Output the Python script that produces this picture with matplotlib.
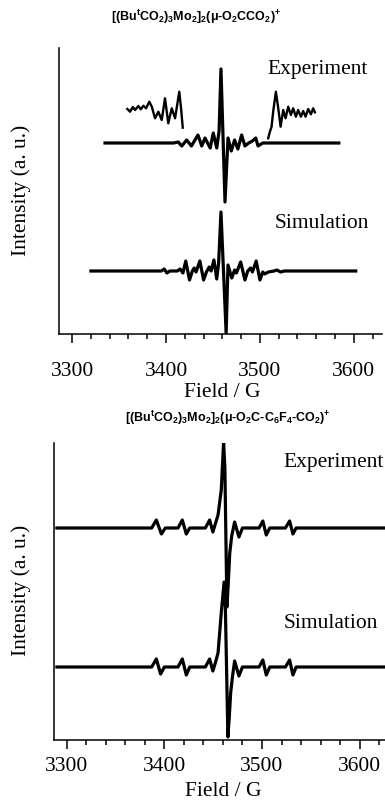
import matplotlib
matplotlib.use("Agg")
import matplotlib.pyplot as plt
from matplotlib.ticker import MultipleLocator

# ---- top panel: [(BuCO2)3Mo2]2(oxalate)+ ----
top_exp_field = [3335, 3408, 3413, 3416.7, 3422, 3427, 3434, 3438, 3441.5, 3447, 3450.3, 3454,
                 3456.5, 3458.5, 3462.8, 3466, 3469.5, 3473, 3476.5, 3480.5, 3484, 3488, 3492,
                 3495.5, 3498, 3503, 3584]
top_exp_int = [0, 0, 1, -3, 3, -3, 8, -3, 5, -5, 10, -5,
               12, 74, -59, 5, -8, 3, -6, 8, -3, 0, 2,
               5, -3, 0, 0]

top_sim_field = [3320, 3395, 3398, 3401, 3404, 3412, 3415, 3418, 3421, 3425, 3428, 3430, 3432,
                 3436, 3440, 3443, 3446, 3448, 3451, 3454, 3456, 3458.5, 3464, 3466, 3470, 3473,
                 3475, 3479.5, 3484, 3487, 3490, 3492, 3496, 3500, 3503, 3505, 3509, 3515, 3518,
                 3522, 3526, 3602]
top_sim_int = [0, 0, 2, -2, 0, 0, 2, -2, 10, -9, 0, 3, -1,
               10, -9, -1, 4, 0, 11, -8, 8, 59, -62, 6, -7, 1,
               -2, 9, -9, 0, 3, -1, 10, -9, -1, -3, -1, 0, 1,
               -1, 0, 0]

# expanded wings of the experimental spectrum
wing_l_field = [3358.8, 3361.7, 3364.6, 3367.0, 3370.5, 3373.1, 3375.9, 3378.7, 3382.2, 3384.8,
                3388.3, 3391.8, 3395.4, 3398.9, 3402.4, 3406.1, 3409.6, 3414.1, 3416.0, 3417.8]
wing_l_int = [225, 222.3, 227, 224, 228, 224.7, 228.3, 225.7, 232.3, 227.3,
              215.7, 222.3, 214, 235.7, 210.7, 225.7, 215.7, 242.3, 225.7, 206.3]
wing_r_field = [3508.8, 3510.6, 3512.4, 3514.1, 3517.0, 3519.5, 3522.0, 3524.8, 3527.3, 3530.1,
                3533.0, 3535.4, 3538.3, 3540.7, 3543.6, 3546.1, 3548.6, 3551.4, 3554.3, 3556.7,
                3558.5]
wing_r_int = [195.7, 202.3, 207.3, 222.3, 242.3, 225.7, 207.3, 224, 215.7, 227.3,
              219, 225.7, 217.3, 224, 217.3, 223, 217.3, 225, 219.7, 225.7,
              221.7]

# ---- bottom panel: [(BuCO2)3Mo2]2(C6F4 dicarboxylate)+ ----
bot_exp_field = [3290, 3387, 3391.8, 3397, 3401, 3414, 3418.4, 3422.5, 3426, 3442, 3446.4,
                 3449.7, 3452.5, 3455, 3458.3, 3460.7, 3462, 3464.1, 3465.5, 3467, 3469, 3472,
                 3476.4, 3480, 3497, 3500.9, 3504.4, 3508, 3524, 3528.3, 3531.7, 3535, 3630]
bot_exp_int = [0, 0, 8, -6, 0, 0, 8, -6, 0, 0, 8,
               -4, 5, 13, 38, 86, 60, -79, -55, -25, -8, 6,
               -9, 0, 0, 7, -7, 0, 0, 7, -6, 0, 0]

bot_sim_field = [3290, 3387, 3391.8, 3396.2, 3400, 3414, 3418.4, 3422.5, 3426, 3442, 3446.4,
                 3449.7, 3452.5, 3455, 3458.3, 3461.2, 3462.5, 3465.1, 3466.5, 3468, 3470, 3472,
                 3476.4, 3480, 3497, 3500.9, 3504.4, 3508, 3524, 3528.3, 3531.7, 3535, 3630]
bot_sim_int = [0, 0, 8, -7, 0, 0, 8, -8, 0, 0, 8,
               -4, 5, 14, 54, 85, 60, -70, -50, -25, -8, 6,
               -9, 0, 0, 7, -8, 0, 0, 7, -8, 0, 0]

top_offsets = (191, 63)
bot_offsets = (212, 73)

title_top = r'[(Bu$^{t}$CO$_{2}$)$_{3}$Mo$_{2}$]$_{2}$(μ-O$_{2}$CCO$_{2}$)$^{+}$'
title_bot = r'[(Bu$^{t}$CO$_{2}$)$_{3}$Mo$_{2}$]$_{2}$(μ-O$_{2}$C-C$_{6}$F$_{4}$-CO$_{2}$)$^{+}$'

plt.rcParams['mathtext.fontset'] = 'custom'
plt.rcParams['mathtext.rm'] = 'Liberation Sans:bold'
plt.rcParams['mathtext.default'] = 'rm'

W, H = 385, 802
serif = 'Liberation Serif'
fs = 15.5
lw = 2.3


def fx(x):
    return x / W


def fy(y):
    return 1 - y / H


def style_axis(ax, xmin, xmax, ymax, pad):
    ax.set_xlim(xmin, xmax)
    ax.set_ylim(0, ymax)
    for s in ('top', 'right'):
        ax.spines[s].set_visible(False)
    for s in ('left', 'bottom'):
        ax.spines[s].set_linewidth(1.1)
    ax.set_yticks([])
    ax.xaxis.set_major_locator(MultipleLocator(100))
    ax.xaxis.set_minor_locator(MultipleLocator(20))
    ax.tick_params(axis='x', which='major', length=6.5, width=1.1, direction='out',
                   pad=pad, labelsize=fs)
    ax.tick_params(axis='x', which='minor', length=3.5, width=1.1, direction='out')
    for lab in ax.get_xticklabels():
        lab.set_fontfamily(serif)


fig = plt.figure(figsize=(W / 100, H / 100), dpi=100)

# top panel
ax1 = fig.add_axes([fx(59), fy(334), fx(382 - 59), (334 - 48) / H])
ax1.plot(top_exp_field, [v + top_offsets[0] for v in top_exp_int], color='black', lw=lw,
         solid_joinstyle='round')
ax1.plot(top_sim_field, [v + top_offsets[1] for v in top_sim_int], color='black', lw=lw,
         solid_joinstyle='round')
ax1.plot(wing_l_field, wing_l_int, color='black', lw=1.7)
ax1.plot(wing_r_field, wing_r_int, color='black', lw=1.7)
style_axis(ax1, 3286, 3630, 286, 14)

# bottom panel
ax2 = fig.add_axes([fx(54), fy(740), 1 - fx(54), (740 - 443) / H])
ax2.plot(bot_exp_field, [v + bot_offsets[0] for v in bot_exp_int], color='black', lw=lw,
         solid_joinstyle='round')
ax2.plot(bot_sim_field, [v + bot_offsets[1] for v in bot_sim_int], color='black', lw=lw,
         solid_joinstyle='round')
style_axis(ax2, 3287, 3626, 297, 6)

# titles
fig.text(fx(196), fy(21), title_top, ha='center', va='baseline', fontsize=9,
         fontweight='bold', family='Liberation Sans')
fig.text(fx(228), fy(422), title_bot, ha='center', va='baseline', fontsize=9,
         fontweight='bold', family='Liberation Sans')

# trace labels
fig.text(fx(368), fy(74), 'Experiment', ha='right', va='baseline', fontsize=fs, family=serif)
fig.text(fx(369), fy(228), 'Simulation', ha='right', va='baseline', fontsize=fs, family=serif)
fig.text(fx(384), fy(467), 'Experiment', ha='right', va='baseline', fontsize=fs, family=serif)
fig.text(fx(378), fy(628), 'Simulation', ha='right', va='baseline', fontsize=fs, family=serif)

# axis labels
fig.text(fx(222), fy(397), 'Field / G', ha='center', va='baseline', fontsize=fs, family=serif)
fig.text(fx(223), fy(796), 'Field / G', ha='center', va='baseline', fontsize=fs, family=serif)
fig.text(fx(21), fy(190), 'Intensity (a. u.)', ha='center', va='center', rotation=90,
         fontsize=fs, family=serif)
fig.text(fx(21), fy(590), 'Intensity (a. u.)', ha='center', va='center', rotation=90,
         fontsize=fs, family=serif)

fig.savefig('out.png', dpi=100)
